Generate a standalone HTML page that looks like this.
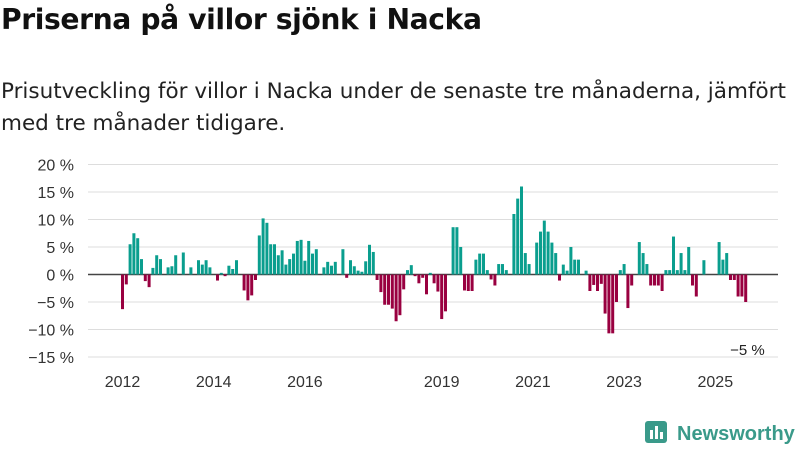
<!DOCTYPE html>
<html><head><meta charset="utf-8"><style>
body{margin:0;width:800px;height:450px;background:#fff;font-family:"Liberation Sans","DejaVu Sans",sans-serif;color:#111;overflow:hidden;position:relative}
h1{position:absolute;left:1px;top:3px;margin:0;font-family:"DejaVu Sans",sans-serif;font-size:28.2px;font-weight:bold;letter-spacing:-0.4px}
p{position:absolute;left:1px;top:76px;margin:0;font-family:"DejaVu Sans",sans-serif;font-size:21.5px;line-height:32px;width:798px;color:#222;white-space:nowrap}
svg{position:absolute;left:0;top:0}
</style></head><body>
<h1>Priserna på villor sjönk i Nacka</h1>
<p>Prisutveckling för villor i Nacka under de senaste tre månaderna, jämfört<br>med tre månader tidigare.</p>
<svg id="c" width="800" height="450"></svg>
<script>
const values=[-6.3,-1.8,5.5,7.5,6.6,2.8,-1.2,-2.3,1.2,3.5,2.8,0,1.3,1.5,3.5,0,4.0,0,1.3,0,2.6,1.8,2.6,1.3,0,-1.1,0.3,-0.3,1.6,1.0,2.6,0,-2.9,-4.7,-3.8,-1.0,7.1,10.2,9.4,5.5,5.5,3.5,4.4,1.8,2.8,3.8,6.1,6.3,2.5,6.1,3.8,4.6,0,1.3,2.3,1.6,2.3,0,4.6,-0.6,2.6,1.5,0.7,0.5,2.4,5.4,4.1,-1.0,-3.2,-5.5,-5.5,-6.2,-8.5,-7.4,-2.7,0.8,1.7,-0.3,-1.6,-0.6,-3.6,0.3,-1.6,-3.1,-8.1,-6.7,0,8.6,8.6,5.0,-2.9,-3.0,-3.0,2.7,3.8,3.8,0.8,-0.9,-2.0,1.9,1.9,0.8,0,11.0,13.8,16.0,3.9,1.9,0,5.8,7.8,9.8,7.8,5.8,3.9,-1.1,1.8,0.7,5.0,2.7,2.7,0,0.7,-3.0,-1.9,-3.0,-1.7,-7.1,-10.7,-10.7,-5.0,0.8,1.9,-6.1,-2.0,0,5.9,3.9,1.9,-2.0,-2.0,-2.0,-3.0,0.8,0.8,6.9,0.8,3.9,0.8,5.0,-2.0,-4.0,0,2.6,0,0,0,5.9,2.7,3.9,-1.0,-1.0,-4.0,-4.0,-5.0];
const startYear=2012;
const yTicks=[20,15,10,5,0,-5,-10,-15];
const xTickYears=[2012,2014,2016,2019,2021,2023,2025];
const NS='http://www.w3.org/2000/svg';
const svg=document.getElementById('c');
const y=v=>274.5-v*5.5;
const x=i=>122.5+i*3.8;
function mk(t,a){const e=document.createElementNS(NS,t);for(const k in a)e.setAttribute(k,a[k]);svg.appendChild(e);return e;}
yTicks.forEach(t=>{
  const g=mk('line',{x1:88,x2:778,y1:y(t),y2:y(t),stroke:t===0?'#444':'#ddd','stroke-width':t===0?1.6:1});
  
  
  const l=mk('text',{x:74,y:y(t)+6,'text-anchor':'end','font-size':16,fill:'#333'});
  l.textContent=(t<0?'−'+(-t):t)+' %';
  
  
});
values.forEach((v,i)=>{
  if(v===0)return;
  const r=mk('rect',{x:x(i)-1.5,width:3,y:Math.min(y(v),y(0)),height:Math.abs(y(v)-y(0)),fill:v>0?'#0a9e8e':'#990040'});
  
  
});
xTickYears.forEach(yr=>{
  const i=(yr-startYear)*12;
  const t=mk('text',{x:x(i),y:387,'text-anchor':'middle','font-size':16,fill:'#333'});
  t.textContent=yr;
  
  
});
const last=values[values.length-1];
const lb=mk('text',{x:x(values.length-1)+19,y:y(last)+53,'text-anchor':'end','font-size':15,fill:'#222'});
lb.textContent='−'+Math.abs(Math.round(last))+' %';


</script>
<svg width="800" height="450" style="pointer-events:none">
<rect x="645" y="421" width="22" height="22" rx="3" fill="#3a9a8a"/>
<rect x="650" y="430" width="3" height="9" fill="#fff"/><rect x="655" y="426" width="3" height="13" fill="#fff"/><rect x="660" y="432" width="3" height="7" fill="#fff"/>
<text x="677" y="440" font-size="20" font-weight="bold" fill="#3a9a8a" font-family="Liberation Sans,sans-serif">Newsworthy</text>
</svg>
</body></html>
